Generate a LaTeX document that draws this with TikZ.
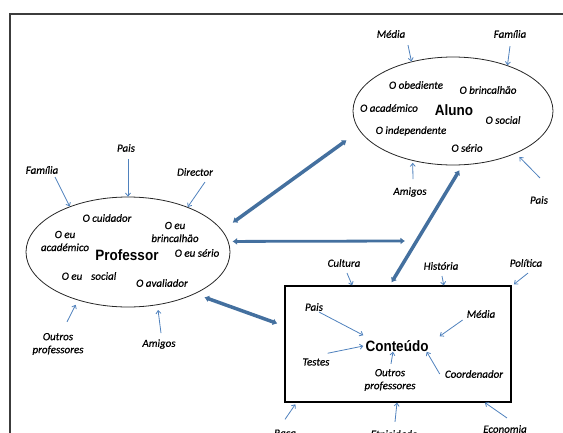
\documentclass[tikz,border=0pt]{standalone}
\usepackage{fontspec}
\setmainfont{Carlito}
\newfontfamily\notefont{Carlito}[FakeBold=0.5]
\newfontfamily\headfont{Liberation Sans}[FakeStretch=0.9]
\usetikzlibrary{shapes.geometric,arrows.meta,calc}
\definecolor{linkblue}{HTML}{4F81BD}
\definecolor{bondblue}{HTML}{44709F}
\definecolor{framegray}{HTML}{3C3C3C}
\begin{document}
\begin{tikzpicture}[x=1pt,y=-1pt,
  lbl/.style={font=\notefont\fontsize{11}{13}\selectfont\itshape, inner sep=1pt, align=center},
  head/.style={font=\headfont\bfseries\fontsize{15}{17}\selectfont, inner sep=1pt},
  infl/.style={draw=linkblue, line width=0.8pt, -{Straight Barb[length=3pt,width=5pt]}},
  bond/.style={draw=bondblue, line width=3.5pt, line cap=round,
    {Latex[length=4.5pt,width=7pt]}-{Latex[length=4.5pt,width=7pt]}},
  role/.style={draw=black!85, line width=0.8pt, ellipse, inner sep=0pt},
]
\useasboundingbox (0,0) rectangle (563,432);
\clip (0,0) rectangle (563,432);

% outer frame (runs past the right and bottom edges)
\draw[framegray, line width=1.1pt] (10,14) rectangle (600,470);

% ---------------- Aluno ----------------
\node[role, minimum width=200pt, minimum height=108pt] (aluno) at (453,111) {};
\node[head] (alunoT) at (454,110) {Aluno};
\node[lbl] (aObed) at (416,85) {O obediente};
\node[lbl] (aBrinc) at (488,90) {O brincalhão};
\node[lbl] (aAcad) at (389,108) {O académico};
\node[lbl] (aSoc) at (503,120) {O social};
\node[lbl] (aIndep) at (411,131) {O independente};
\node[lbl] (aSerio) at (467,148) {O sério};

\node[lbl] (medA) at (391,34) {Média};
\node[lbl] (famA) at (510,34) {Família};
\node[lbl] (amA) at (410,192) {Amigos};
\node[lbl] (paisA) at (539,200) {Pais};

\draw[infl] ($(medA.south)+(17,6)$) -- (aluno.130.6);
\draw[infl] ($(famA.south)+(0,7)$) -- (aluno.40);
\draw[infl, shorten >=2pt] ($(amA.north)+(3,-7)$) -- (aluno.231);
\draw[infl, shorten >=5pt] ($(paisA.north)+(1,-17)$) -- (aluno.326);

% ---------------- Professor ----------------
\node[role, minimum width=204pt, minimum height=110pt] (prof) at (128,252) {};
\node[head] (profT) at (127,255) {Professor};
\node[lbl] (pCuid) at (107,218) {O cuidador};
\node[lbl] (pAcad) at (65,241) {O eu\\académico};
\node[lbl] (pBrinc) at (175,232) {O eu\\brincalhão};
\node[lbl] (pSerio) at (197,253) {O eu sério};
\node[lbl] (pSoc) at (89,276) {O eu\hspace{0.8em}social};
\node[lbl] (pAval) at (162,283) {O avaliador};

\node[lbl] (pfamA) at (42,170) {Família};
\node[lbl] (ppaisA) at (126,148) {Pais};
\node[lbl] (dirA) at (195,172) {Director};
\node[lbl] (poutA) at (58,344) {Outros\\professores};
\node[lbl] (pamA) at (159,344) {Amigos};

\draw[infl] ($(pfamA.south)+(13,2)$) -- (prof.142);
\draw[infl] ($(ppaisA.south)+(2,6)$) -- (prof.90);
\draw[infl] ($(dirA.south)+(10,5)$) -- (prof.37.3);
\draw[infl, shorten >=5pt] ($(poutA.north)+(9,-10)$) -- (prof.224);
\draw[infl, shorten >=5pt] ($(pamA.north)+(2,-5)$) -- (prof.299.6);

% ---------------- Conteúdo ----------------
\node[draw=black, line width=1.2pt, inner sep=0pt,
      minimum width=226pt, minimum height=116pt] (cont) at (398,344) {};
\node[head, inner sep=2pt] (contT) at (397,346) {Conteúdo};

\node[lbl] (cpaisA) at (314,307) {Pais};
\node[lbl] (cmedA) at (481,314) {Média};
\node[lbl] (testA) at (316,362) {Testes};
\node[lbl] (coutA) at (390,380) {Outros\\professores};
\node[lbl] (coordA) at (474,374) {Coordenador};

\draw[infl] ($(cpaisA.south)+(5,0)$) -- ($(contT.north west)+(0,-3)$);
\draw[infl] ($(cmedA.south west)+(-3,1)$) -- ($(contT.north east)+(9,-2)$);
\draw[infl] ($(testA.north east)+(-3,-4)$) -- ($(contT.west)+(0,0)$);
\draw[infl] ($(coutA.north)+(1,-4)$) -- ($(contT.south)+(-4,-2)$);
\draw[infl] ($(coordA.west)+(-4,0)$) -- ($(contT.south east)+(-4,-2)$);

\node[lbl] (cultA) at (344,263) {Cultura};
\node[lbl] (histA) at (441,266) {História};
\node[lbl] (polA) at (526,263) {Política};
\node[lbl] (racaA) at (285,434) {Raça};
\node[lbl] (etnA) at (394,434) {Etnicidade};
\node[lbl] (ecoA) at (505,429) {Economia};

\draw[infl] ($(cultA.south)+(3,5)$) -- (cont.128.4);
\draw[infl] ($(histA.south)+(1,5)$) -- (cont.52.8);
\draw[infl, shorten >=3pt] ($(polA.south)+(2,5)$) -- (cont.27.8);
\draw[infl, shorten >=2pt] ($(racaA.north)+(0,-9)$) -- (cont.210.6);
\draw[infl] ($(etnA.north)+(1,-7)$) -- (cont.269);
\draw[infl] ($(ecoA.north)+(2,-6)$) -- (cont.326);

% ---------------- relations between the three poles ----------------
\coordinate (link) at (405,241);
\draw[bond, shorten <=13pt, shorten >=16pt] (prof.13.6) -- (aluno.192.8);
\draw[bond, line width=2.8pt, shorten <=4pt] (prof.6.3) -- (link);
\draw[bond, shorten <=3.5pt, shorten >=6pt] (cont.98.6) -- (aluno.280.7);
\draw[bond, shorten <=10pt, shorten >=7.5pt] (prof.328.4) -- (cont.171.2);
\end{tikzpicture}
\end{document}
